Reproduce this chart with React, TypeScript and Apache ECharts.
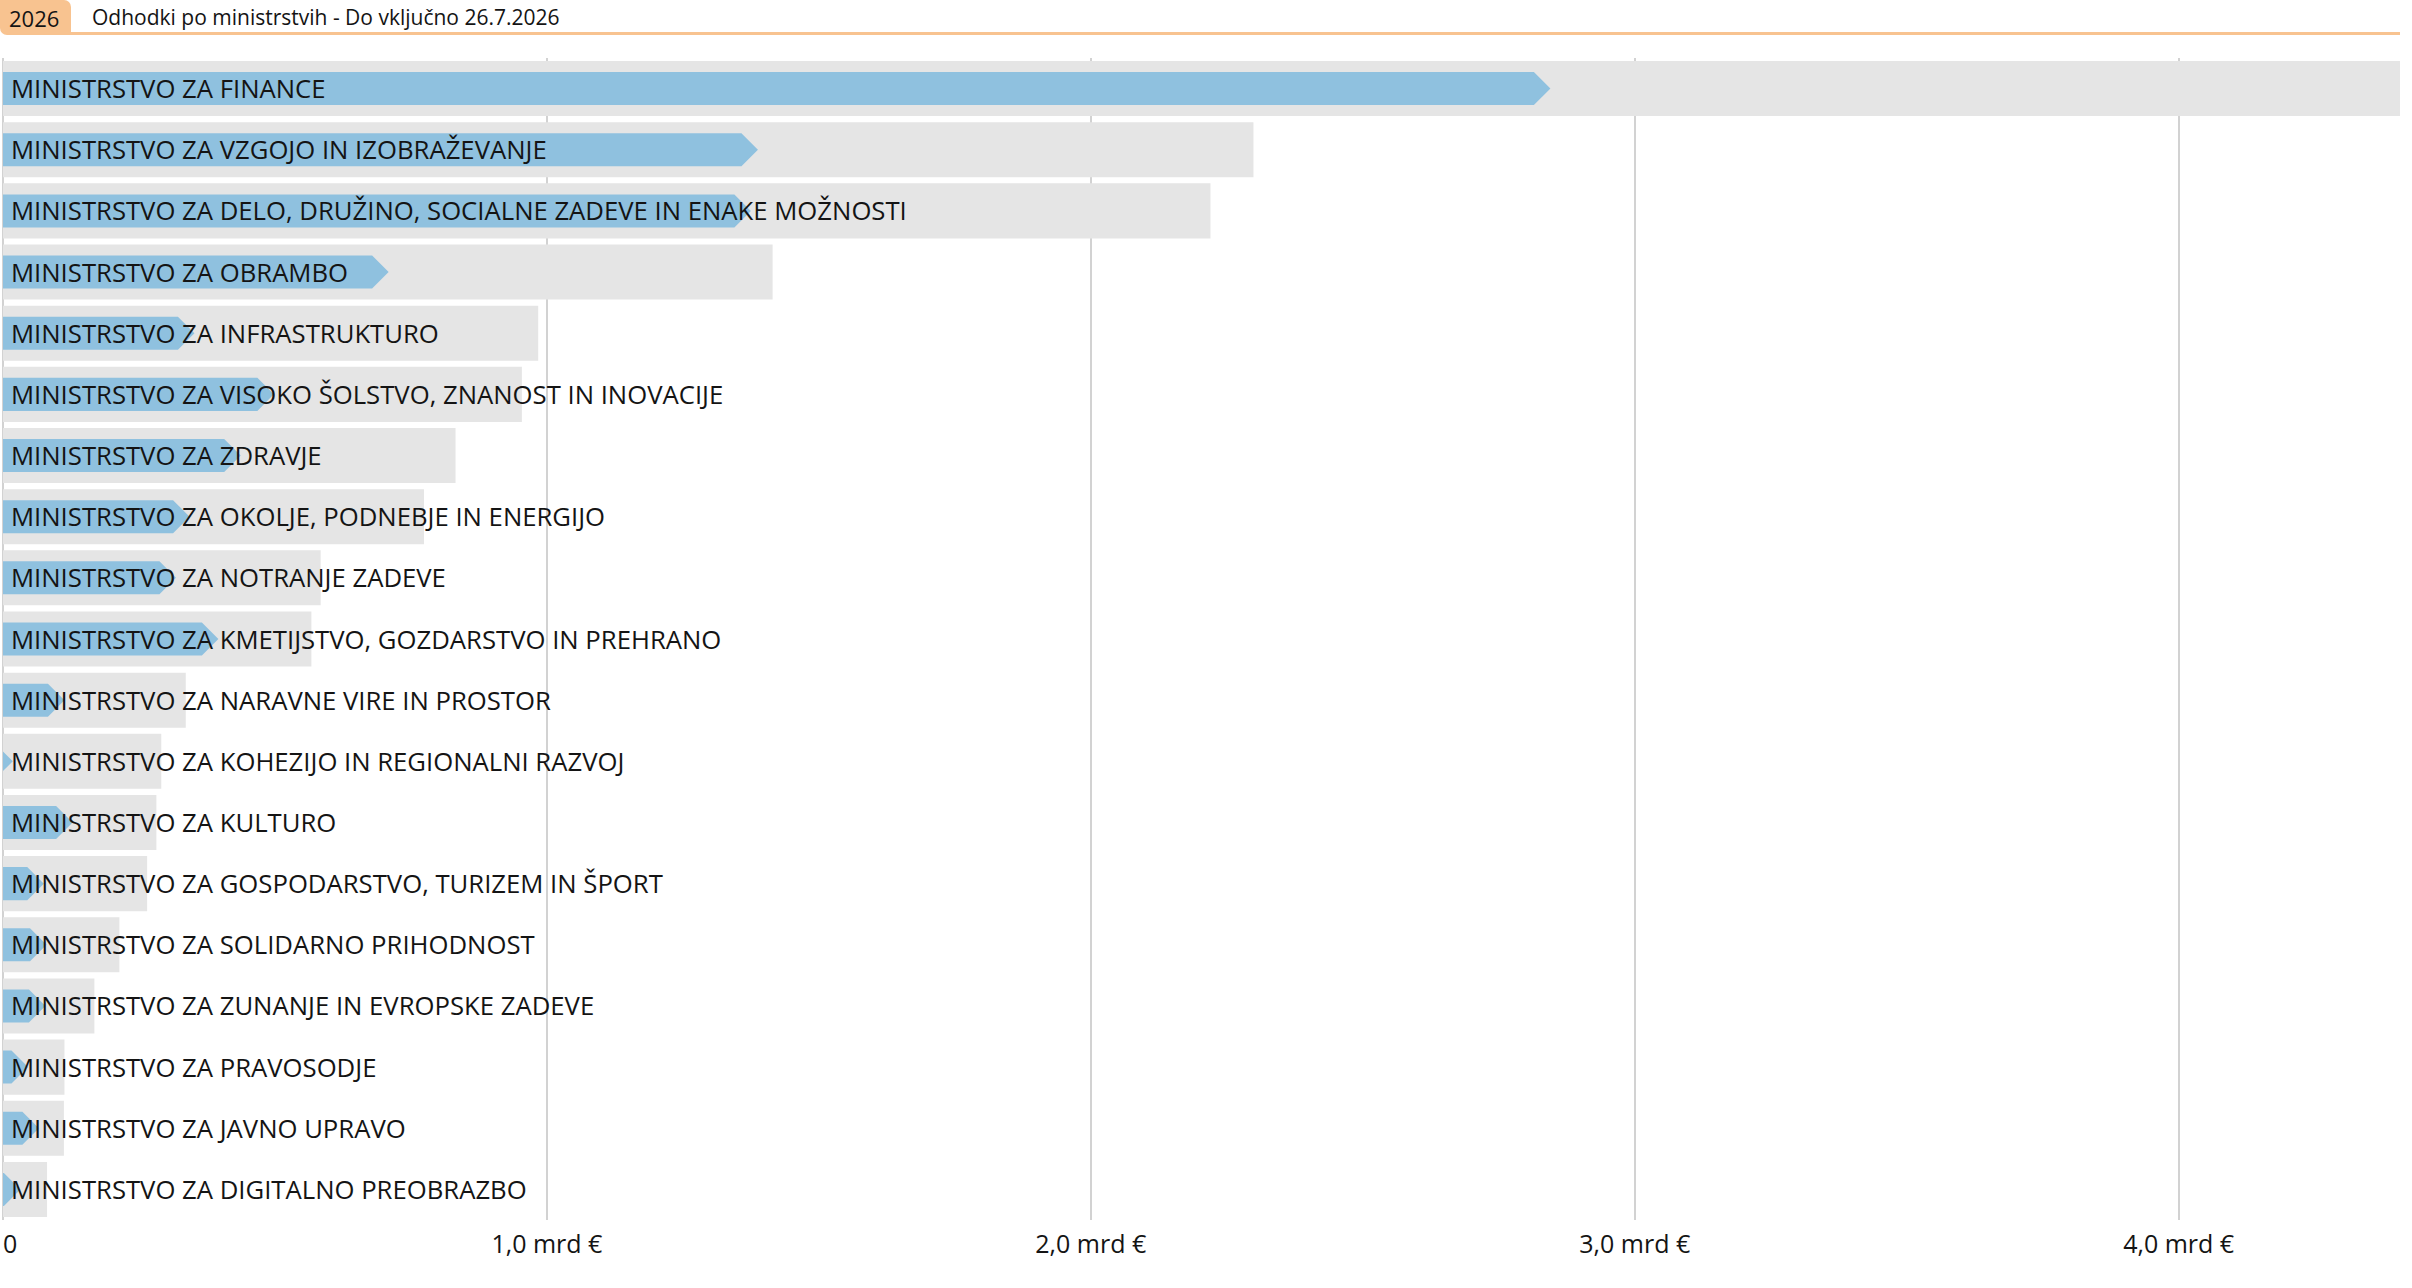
import React, { useEffect, useRef } from "react";
import * as echarts from "echarts";

const YEAR = "2026";
const TITLE = "Odhodki po ministrstvih - Do vključno 26.7.2026";

const ministries = [
  "MINISTRSTVO ZA FINANCE",
  "MINISTRSTVO ZA VZGOJO IN IZOBRAŽEVANJE",
  "MINISTRSTVO ZA DELO, DRUŽINO, SOCIALNE ZADEVE IN ENAKE MOŽNOSTI",
  "MINISTRSTVO ZA OBRAMBO",
  "MINISTRSTVO ZA INFRASTRUKTURO",
  "MINISTRSTVO ZA VISOKO ŠOLSTVO, ZNANOST IN INOVACIJE",
  "MINISTRSTVO ZA ZDRAVJE",
  "MINISTRSTVO ZA OKOLJE, PODNEBJE IN ENERGIJO",
  "MINISTRSTVO ZA NOTRANJE ZADEVE",
  "MINISTRSTVO ZA KMETIJSTVO, GOZDARSTVO IN PREHRANO",
  "MINISTRSTVO ZA NARAVNE VIRE IN PROSTOR",
  "MINISTRSTVO ZA KOHEZIJO IN REGIONALNI RAZVOJ",
  "MINISTRSTVO ZA KULTURO",
  "MINISTRSTVO ZA GOSPODARSTVO, TURIZEM IN ŠPORT",
  "MINISTRSTVO ZA SOLIDARNO PRIHODNOST",
  "MINISTRSTVO ZA ZUNANJE IN EVROPSKE ZADEVE",
  "MINISTRSTVO ZA PRAVOSODJE",
  "MINISTRSTVO ZA JAVNO UPRAVO",
  "MINISTRSTVO ZA DIGITALNO PREOBRAZBO",
];

// planned budget (mrd €)
const planned = [
  4.407, 2.299, 2.22, 1.415, 0.984, 0.954, 0.832, 0.774, 0.584, 0.567,
  0.336, 0.291, 0.282, 0.265, 0.214, 0.168, 0.113, 0.112, 0.081,
];

// spent until date (mrd €)
const spent = [
  2.845, 1.388, 1.375, 0.709, 0.352, 0.498, 0.437, 0.343, 0.318, 0.396,
  0.113, 0.018, 0.128, 0.075, 0.08, 0.078, 0.046, 0.066, 0.032,
];

const xTicks = [0, 1, 2, 3, 4];

const ORANGE = "#F8C390";
const GREY = "#E5E5E5";
const BLUE = "#8FC1DF";
const TEXT = "#141414";
const FONT = "'Open Sans', 'Noto Sans', sans-serif";

export default function App() {
  const ref = useRef<HTMLDivElement>(null);

  useEffect(() => {
    document.body.style.margin = "0";
    if (!ref.current) return;
    const chart = echarts.init(ref.current, undefined, { renderer: "svg" });
    const maxVal = Math.max(...planned);

    const option: any = {
      animation: false,
      backgroundColor: "#ffffff",
      grid: { left: 0, right: 12, top: 58, bottom: 68, containLabel: false },
      xAxis: {
        type: "value",
        min: 0,
        max: maxVal,
        interval: 1,
        axisLine: { show: false },
        axisTick: { show: false },
        splitLine: {
          show: true,
          showMaxLine: false,
          lineStyle: { color: "#D2D2D2", width: 2 },
        },
        axisLabel: {
          color: TEXT,
          fontSize: 25,
          fontFamily: FONT,
          margin: 10,
          alignMinLabel: "left",
          showMaxLabel: false,
          formatter: (v: number) => {
            if (!xTicks.includes(v)) return "";
            if (v === 0) return "0";
            return v.toFixed(1).replace(".", ",") + " mrd €";
          },
        },
      },
      yAxis: {
        type: "category",
        inverse: true,
        data: ministries,
        axisLine: { show: false },
        axisTick: { show: false },
        axisLabel: { show: false },
        splitLine: { show: false },
      },
      graphic: [
        {
          type: "rect",
          shape: { x: 70, y: 32, width: 2330, height: 3 },
          style: { fill: ORANGE },
          z: 10,
        },
        {
          type: "rect",
          shape: { x: 0, y: 0, width: 71, height: 35, r: [0, 7, 0, 7] },
          style: { fill: ORANGE },
          z: 10,
        },
        {
          type: "text",
          x: 9,
          y: 18,
          style: {
            text: YEAR,
            fill: TEXT,
            fontSize: 22,
            fontFamily: FONT,
            verticalAlign: "middle",
          },
          z: 11,
        },
        {
          type: "text",
          x: 92,
          y: 17,
          style: {
            text: TITLE,
            fill: TEXT,
            fontSize: 21,
            fontFamily: FONT,
            verticalAlign: "middle",
          },
          z: 11,
        },
      ],
      series: [
        {
          type: "bar",
          data: planned,
          barWidth: "90%",
          itemStyle: { color: GREY },
          silent: true,
          z: 2,
        },
        {
          type: "custom",
          clip: true,
          z: 5,
          data: spent.map((v, i) => [v, i]),
          encode: { x: 0, y: 1 },
          renderItem: (params: any, api: any) => {
            const val = api.value(0);
            const idx = api.value(1);
            const start = api.coord([0, idx]);
            const end = api.coord([val, idx]);
            const band = api.size([0, 1])[1];
            const h = band * 0.54;
            const cy = start[1];
            const x0 = start[0];
            const tip = end[0];
            const depth = h / 2;
            const re = tip - depth;
            let points: number[][];
            if (re >= x0) {
              points = [
                [x0, cy - h / 2],
                [re, cy - h / 2],
                [tip, cy],
                [re, cy + h / 2],
                [x0, cy + h / 2],
              ];
            } else {
              const d = tip - x0;
              points = [
                [x0, cy - d],
                [tip, cy],
                [x0, cy + d],
              ];
            }
            return {
              type: "group",
              children: [
                {
                  type: "polygon",
                  shape: { points },
                  style: { fill: BLUE, stroke: null },
                  z2: 5,
                },
                {
                  type: "text",
                  x: x0 + 8,
                  y: cy,
                  style: {
                    text: ministries[idx],
                    fill: TEXT,
                    fontSize: 25.7,
                    fontFamily: FONT,
                    verticalAlign: "middle",
                    align: "left",
                  },
                  z2: 10,
                },
              ],
            };
          },
        },
      ],
    };

    chart.setOption(option);
    return () => chart.dispose();
  }, []);

  return (
    <div
      ref={ref}
      style={{ position: "absolute", left: 0, top: 0, width: 2412, height: 1288 }}
    />
  );
}
